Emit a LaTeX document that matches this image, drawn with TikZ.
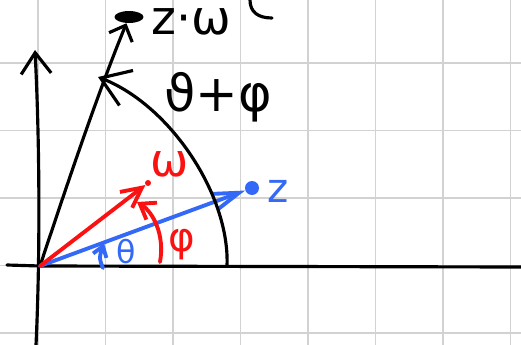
\documentclass[tikz,border=0pt]{standalone}
\usepackage{fontspec}
\setmainfont{DejaVu Sans}
\usepackage{xcolor}
\usepackage{tikz}
\usetikzlibrary{shapes.geometric,arrows.meta,positioning}

\definecolor{penblue}{RGB}{52,104,246}
\definecolor{penred}{RGB}{250,18,18}
\definecolor{gridgray}{RGB}{210,210,210}

\begin{document}
\begin{tikzpicture}[x=0.02cm, y=-0.02cm,
  pen/.style={line width=1.8pt, line cap=round, line join=round},
  barb/.style 2 args={-{Straight Barb[length=#1, width=#2]}},
  dot/.style={circle, fill, inner sep=0pt},
  lbl/.style={inner sep=0pt, font=\fontsize{#1}{#1}\selectfont}]

\useasboundingbox (0,0) rectangle (521,345);
\fill[white] (0,0) rectangle (521,345);
% grid paper
\foreach \x in {38,105.5,...,521} \draw[gridgray, line width=1.1pt] (\x,0) -- (\x,345);
\foreach \y in {63,130.5,...,345} \draw[gridgray, line width=1.1pt] (0,\y) -- (521,\y);

% axes
\coordinate (O) at (40,266);
\coordinate (xl) at (7,265);
\coordinate (xr) at (521,267);
\coordinate (yb) at (36,345);
\coordinate (yt) at (35,50);
\draw[pen] (xl) -- (O) -- (xr);
\draw[pen, barb={0.42cm}{0.6cm}] (yb) .. controls (40,260) and (40,150) .. (yt);

% points
\node[ellipse, fill, minimum width=0.58cm, minimum height=0.24cm, inner sep=0pt] (zw) at (129,17) {};
\node[dot, fill=penblue, minimum size=0.28cm] (z) at (252,188) {};
\node[dot, fill=penred, minimum size=0.12cm] (w) at (148,183) {};

% vectors
\draw[pen, barb={0.26cm}{0.5cm}] (O) .. controls (62,200) and (95,100) .. (zw);
\draw[pen, penblue, line width=2.2pt, barb={0.5cm}{0.32cm}] (O) -- (z);
\draw[pen, penred, line width=2.2pt, barb={0.4cm}{0.4cm}] (O) -- (w);

% angles
\coordinate (a1) at (227,266);
\coordinate (a1e) at (98,77);
\draw[pen, barb={0.55cm}{0.75cm}] (a1) .. controls (230,195) and (170,105) .. (a1e);
\coordinate (a2) at (160,262);
\coordinate (a2e) at (137,202);
\draw[pen, penred, line width=2.2pt, barb={0.28cm}{0.4cm}] (a2) .. controls (165,235) and (153,212) .. (a2e);
\coordinate (a3) at (103,268);
\coordinate (a3e) at (104,243);
\draw[pen, penblue, line width=2.2pt, barb={0.2cm}{0.28cm}] (a3) .. controls (99,258) .. (a3e);

% labels
\node[lbl=27, right=0.14cm of zw, yshift=-0.09cm] (zwlbl) {z·ω};
\node[lbl=29] (sumlbl) at (218,97) {ϑ+φ};
\node[lbl=26, text=penred] (wlbl) at (170,164) {ω};
\node[lbl=23, text=penred] (philbl) at (182,245) {φ};
\node[lbl=23, text=penblue, right=0.16cm of z, yshift=-0.06cm] (zlbl) {z};
\node[lbl=18, text=penblue] (thlbl) at (126,252) {θ};

% bracket fragment at the top edge
\draw[pen] (250,0) .. controls (250,12) and (258,18) .. (272,18);
\end{tikzpicture}
\end{document}
